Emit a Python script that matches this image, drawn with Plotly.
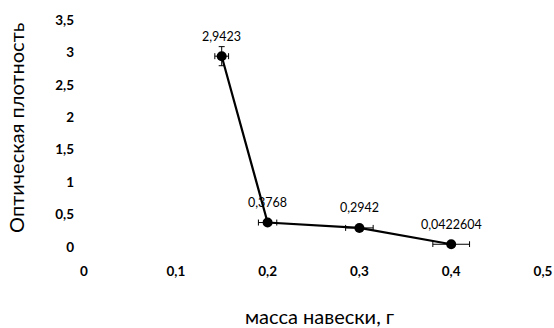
import plotly.graph_objects as go

mass = [0.15, 0.2, 0.3, 0.4]
density = [2.9423, 0.3768, 0.2942, 0.0422604]
labels = ["2,9423", "0,3768", "0,2942", "0,0422604"]
x_ticks = [0, 0.1, 0.2, 0.3, 0.4, 0.5]
y_ticks = [0, 0.5, 1, 1.5, 2, 2.5, 3, 3.5]

fig = go.Figure()
fig.add_trace(go.Scatter(
    x=mass, y=density, mode="lines+markers",
    line=dict(color="black", width=2.2),
    marker=dict(color="black", size=10),
    error_x=dict(type="percent", value=5, color="black", thickness=1, width=3),
    error_y=dict(type="percent", value=5, color="black", thickness=1, width=3),
    cliponaxis=False,
    showlegend=False,
))

annotations = [
    dict(x=xv, y=yv, text=t, xref="x", yref="y", showarrow=False,
         xanchor="center", yanchor="middle", yshift=20,
         font=dict(family="Lato, Open Sans, sans-serif", size=12.5, color="black"))
    for xv, yv, t in zip(mass, density, labels)
]
annotations += [
    dict(text="масса навески, г", xref="paper", yref="paper",
         x=0.512, y=-0.305, xanchor="center", yanchor="middle",
         showarrow=False, font=dict(size=20)),
    dict(text="Оптическая плотность", xref="paper", yref="paper",
         x=-0.148, xanchor="center", y=0.525, yanchor="middle",
         textangle=-90, showarrow=False, font=dict(size=20)),
]

fig.update_layout(
    width=554, height=328,
    margin=dict(l=84, r=11, t=20, b=81),
    paper_bgcolor="white", plot_bgcolor="white",
    separators=", ",
    font=dict(family="Lato, Open Sans, sans-serif", color="black"),
    xaxis=dict(
        range=[0, 0.5], tickvals=x_ticks, showgrid=False, zeroline=False,
        showline=False, ticks="", ticklabelstandoff=14, automargin=False,
        tickfont=dict(size=13.5, family="Lato, sans-serif", weight="bold"),
    ),
    yaxis=dict(
        range=[0, 3.5], tickvals=y_ticks, showgrid=False, zeroline=False,
        showline=False, ticks="", ticklabelstandoff=9, automargin=False,
        tickfont=dict(size=13.5, family="Lato, sans-serif", weight="bold"),
    ),
    annotations=annotations,
)

fig.write_html("out.html", config={"displayModeBar": False},
               post_script="document.body.style.margin='0';")
